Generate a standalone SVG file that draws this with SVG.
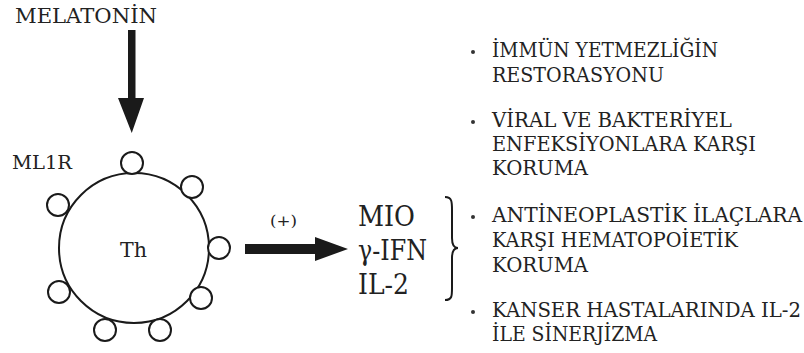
<svg xmlns="http://www.w3.org/2000/svg" width="804" height="353" viewBox="0 0 804 353">
<style>
text{font-family:"DejaVu Serif","Liberation Serif","Noto Serif",serif;fill:#222}
.rc{fill:#fff;stroke:#1a1a1a;stroke-width:2}
.item{font-size:19.5px}
.cy{font-size:27.5px}
.arr{fill:#1a1a1a}
.dot{fill:#333}
</style>
<rect width="804" height="353" fill="#fff"/>
<g id="melatonin"><text x="15" y="23" font-size="21" textLength="142" lengthAdjust="spacingAndGlyphs">MELATONİN</text></g>
<g id="ml1r"><text x="12" y="169" font-size="18.5" textLength="60" lengthAdjust="spacingAndGlyphs">ML1R</text></g>
<g id="cell">
<circle cx="134" cy="248" r="75" fill="none" stroke="#1a1a1a" stroke-width="2"/>
<circle class="rc" cx="132" cy="163" r="11"/>
<circle class="rc" cx="192" cy="187" r="11"/>
<circle class="rc" cx="219" cy="248" r="11"/>
<circle class="rc" cx="201" cy="298" r="11"/>
<circle class="rc" cx="160" cy="330" r="11"/>
<circle class="rc" cx="105" cy="330" r="11"/>
<circle class="rc" cx="59" cy="292" r="11"/>
<circle class="rc" cx="58" cy="205" r="11"/>
<text x="120" y="257" font-size="20.5" textLength="27" lengthAdjust="spacingAndGlyphs">Th</text>
</g>
<g id="plus"><text x="270" y="226" font-size="15" textLength="27" lengthAdjust="spacingAndGlyphs">(+)</text></g>
<g id="cytokines">
<text class="cy" x="358" y="226" textLength="57" lengthAdjust="spacingAndGlyphs">MIO</text>
<text class="cy" x="358" y="260" textLength="69" lengthAdjust="spacingAndGlyphs">γ-IFN</text>
<text class="cy" x="358" y="294" textLength="51" lengthAdjust="spacingAndGlyphs">IL-2</text>
</g>
<g id="brace"><path d="M445,197 C452,197 452,202 452,210 L452,238 C452,244 454,248 458,248 C454,248 452,252 452,258 L452,288 C452,296 452,300 445,300" fill="none" stroke="#1a1a1a" stroke-width="2"/></g>
<g id="effects">
<circle class="dot" cx="473" cy="52" r="2"/>
<text class="item" x="492" y="57" textLength="226" lengthAdjust="spacingAndGlyphs">İMMÜN YETMEZLİĞİN</text>
<text class="item" x="492" y="82" textLength="172" lengthAdjust="spacingAndGlyphs">RESTORASYONU</text>
<circle class="dot" cx="473" cy="122" r="2"/>
<text class="item" x="492" y="127" textLength="240" lengthAdjust="spacingAndGlyphs">VİRAL VE BAKTERİYEL</text>
<text class="item" x="492" y="151" textLength="264" lengthAdjust="spacingAndGlyphs">ENFEKSİYONLARA KARŞI</text>
<text class="item" x="492" y="175" textLength="96" lengthAdjust="spacingAndGlyphs">KORUMA</text>
<circle class="dot" cx="473" cy="217" r="2"/>
<text class="item" x="492" y="222" textLength="310" lengthAdjust="spacingAndGlyphs">ANTİNEOPLASTİK İLAÇLARA</text>
<text class="item" x="492" y="247" textLength="246" lengthAdjust="spacingAndGlyphs">KARŞI HEMATOPOİETİK</text>
<text class="item" x="492" y="272" textLength="96" lengthAdjust="spacingAndGlyphs">KORUMA</text>
<circle class="dot" cx="473" cy="312" r="2"/>
<text class="item" x="492" y="317" textLength="309" lengthAdjust="spacingAndGlyphs">KANSER HASTALARINDA IL-2</text>
<text class="item" x="492" y="341" textLength="165" lengthAdjust="spacingAndGlyphs">İLE SİNERJİZMA</text>
</g>
<g id="connectors">
<polygon class="arr" points="128,30 135.5,30 135.5,98 144,98 131.75,133 118,98 128,98"/>
<polygon class="arr" points="245,244 315,244 315,237 348,249 315,261 315,254 245,254"/>
</g>
</svg>
